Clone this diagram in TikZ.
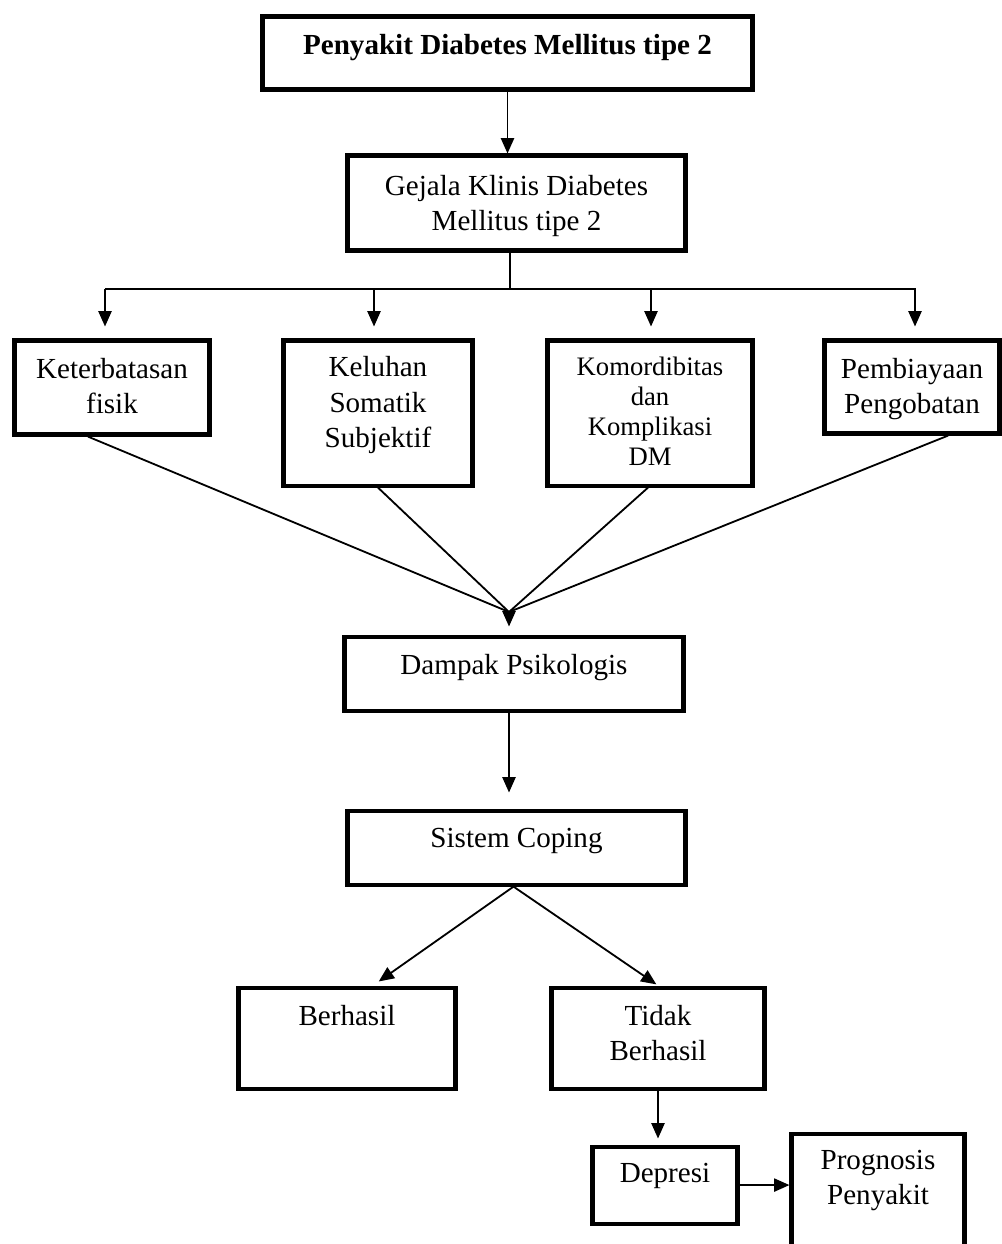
\documentclass[tikz,border=0pt]{standalone}
\usepackage{fontspec}
\setmainfont{Liberation Serif}
\usetikzlibrary{arrows.meta}
\newdimen\upx \upx=0.4126pt

\begin{document}
\begin{tikzpicture}[x=0.4126pt, y=-0.4126pt,
    box/.style={draw, line width=1.7pt, inner sep=0pt, align=center, anchor=north,
        font=\fontsize{12}{14.5}\selectfont},
    arr/.style={line width=0.75pt, -{Triangle[length=6.3pt, width=5.4pt]}},
    garis/.style={line width=0.75pt},
]
\useasboundingbox (0,0) rectangle (1001,1244);

% penyakit dan gejala
\node[box, minimum width=490\upx, text height=38\upx, text depth=35\upx] (judul) at (507.5,14.5)
    {\textbf{Penyakit Diabetes Mellitus tipe 2}};
\node[box, minimum width=338\upx, text height=74.6\upx, text depth=20.4\upx] (gejala) at (516.5,153.5)
    {Gejala Klinis Diabetes\\Mellitus tipe 2};

% empat faktor
\node[box, minimum width=195\upx, text height=72.6\upx, text depth=21.4\upx] (ket) at (112,338.5)
    {Keterbatasan\\fisik};
\node[box, minimum width=189\upx, text height=106.7\upx, text depth=38.3\upx] (kel) at (378,338.5)
    {Keluhan\\Somatik\\Subjektif};
\node[box, minimum width=205\upx, text height=124.7\upx, text depth=20.3\upx,
    font=\fontsize{11}{12.4}\selectfont] (kom) at (650,338.5)
    {Komordibitas\\dan\\Komplikasi\\DM};
\node[box, minimum width=175\upx, text height=72.6\upx, text depth=20.4\upx] (pemb) at (912,338.5)
    {Pembiayaan\\Pengobatan};

% dampak dan coping
\node[box, minimum width=339\upx, text height=37.5\upx, text depth=36.5\upx] (dampak) at (514,634.5)
    {Dampak Psikologis};
\node[box, minimum width=338\upx, text height=36.5\upx, text depth=37.5\upx] (coping) at (516.5,808.5)
    {Sistem Coping};

% hasil
\node[box, minimum width=217\upx, text height=37.5\upx, text depth=63.5\upx] (berhasil) at (347,985.5)
    {Berhasil};
\node[box, minimum width=213\upx, text height=72.6\upx, text depth=28.4\upx] (tidak) at (658,985.5)
    {Tidak\\Berhasil};
\node[box, minimum width=145\upx, text height=35.5\upx, text depth=41.5\upx] (depresi) at (665,1144.5)
    {Depresi};
\node[box, minimum width=173\upx, text height=70.6\upx, text depth=61.4\upx] (prog) at (878,1131.5)
    {Prognosis\\Penyakit};

% panah atas
\draw[arr] (judul.south) -- (judul.south |- gejala.north);
\coordinate (bus) at (510,289);
\coordinate (busL) at (105,289);
\coordinate (busR) at (916,289);
\draw[garis] (bus |- gejala.south) -- (bus);
\draw[garis] (busL) -- (busR);
\foreach \x/\n in {105/ket, 374/kel, 651/kom, 915/pemb} {
    \coordinate (t\n) at (\x,289);
    \draw[arr, shorten >=12\upx] (t\n) -- (t\n |- \n.north);
}

% garis menuju dampak
\coordinate (temu) at (509,612);
\draw[garis] ([xshift=-24\upx]ket.south) -- (temu);
\draw[garis] (kel.south) -- (temu);
\draw[garis] ([xshift=-2\upx]kom.south) -- (temu);
\draw[garis] ([xshift=36\upx]pemb.south) -- (temu);
\draw[arr, shorten >=8\upx] (temu) -- (temu |- dampak.north);
\draw[arr, shorten >=16\upx] (dampak.south -| temu) -- (coping.north -| temu);

% panah bawah
\draw[arr, shorten >=7\upx] ([xshift=-3\upx]coping.south) -- ([xshift=26\upx]berhasil.north);
\draw[arr, shorten >=2\upx] ([xshift=-3\upx]coping.south) -- (tidak.north);
\draw[arr, shorten >=6\upx] (tidak.south) -- (tidak.south |- depresi.north);
\draw[arr] (depresi.east) -- (depresi.east -| prog.west);
\end{tikzpicture}
\end{document}
